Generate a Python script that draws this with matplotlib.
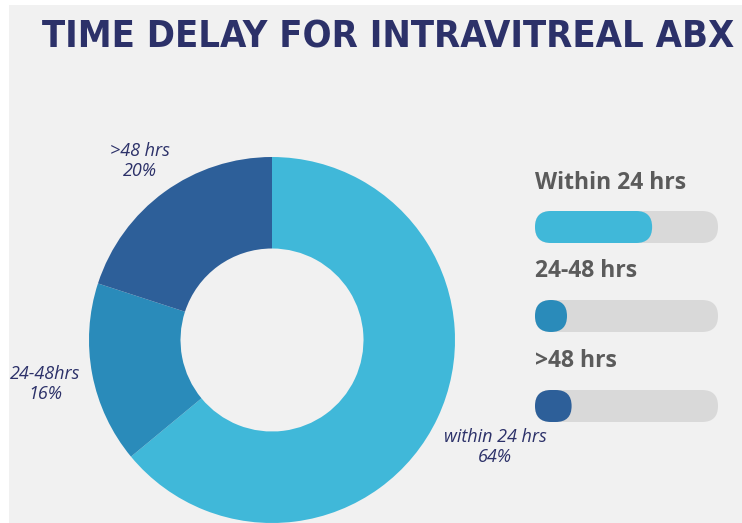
import matplotlib.pyplot as plt
from matplotlib.patches import FancyBboxPatch, Rectangle

title = "TIME DELAY FOR INTRAVITREAL ABX"
categories = ["within 24 hrs", "24-48hrs", ">48 hrs"]
shares = [64, 16, 20]
bar_labels = ["Within 24 hrs", "24-48 hrs", ">48 hrs"]
colors = ["#40b8d9", "#2a8bba", "#2d5f99"]

bg = "#f1f1f1"
navy = "#2c3169"

W, H = 742, 523
fig = plt.figure(figsize=(W / 100, H / 100), dpi=100)
fig.patch.set_facecolor("white")
fig.patches.append(Rectangle((9 / W, 0), 1, 1 - 5 / H, transform=fig.transFigure,
                             facecolor=bg, edgecolor="none", zorder=-1))

t = fig.text(42 / W, 1 - 37 / H, title, ha="left", va="center", fontsize=29,
             fontweight="bold", color=navy, family="DejaVu Sans", fontstretch="condensed")
# shrink title to fit the 693 px it spans in the reference
renderer = fig.canvas.get_renderer()
tw_px = t.get_window_extent(renderer).width
if tw_px > 693:
    t.set_fontsize(29 * 693 / tw_px)

# donut, centre (272, 340) px, radius 183 px
cx, cy, r = 272, 340, 183
ax = fig.add_axes([(cx - r) / W, (H - cy - r) / H, 2 * r / W, 2 * r / H])
ax.pie(shares, colors=colors, startangle=90, counterclock=False, radius=1,
       wedgeprops=dict(width=0.5, edgecolor="none"))
ax.set_xlim(-1, 1)
ax.set_ylim(-1, 1)
ax.axis("off")

label_pos = [(495, 447), (45, 384), (140, 161)]
for name, s, (px, py) in zip(categories, shares, label_pos):
    ax.text((px - cx) / r, (cy - py) / r, f"{name}\n{s}%", ha="center", va="center",
            fontsize=13, style="italic", color=navy, family="Open Sans",
            linespacing=1.2, clip_on=False)

# progress bars, in pixel units
bx = fig.add_axes([0, 0, 1, 1], facecolor="none")
bx.set_xlim(0, W)
bx.set_ylim(H, 0)
bx.axis("off")
x0, tw, th = 535, 183, 32
rows = [(183, 227), (271, 316), (361, 406)]
for lab, s, c, (ty, yc) in zip(bar_labels, shares, colors, rows):
    bx.text(x0, ty, lab, ha="left", va="center", fontsize=16.5, fontweight="bold",
            color="#5b5b5b", family="Open Sans")
    bx.add_patch(FancyBboxPatch((x0, yc - th / 2), tw, th,
                                boxstyle=f"round,pad=0,rounding_size={th / 2}",
                                facecolor="#d9d9d9", edgecolor="none"))
    fw = max(tw * s / 100, th)
    bx.add_patch(FancyBboxPatch((x0, yc - th / 2), fw, th,
                                boxstyle=f"round,pad=0,rounding_size={th / 2}",
                                facecolor=c, edgecolor="none"))

fig.savefig("out.png", dpi=100, facecolor=fig.get_facecolor())
